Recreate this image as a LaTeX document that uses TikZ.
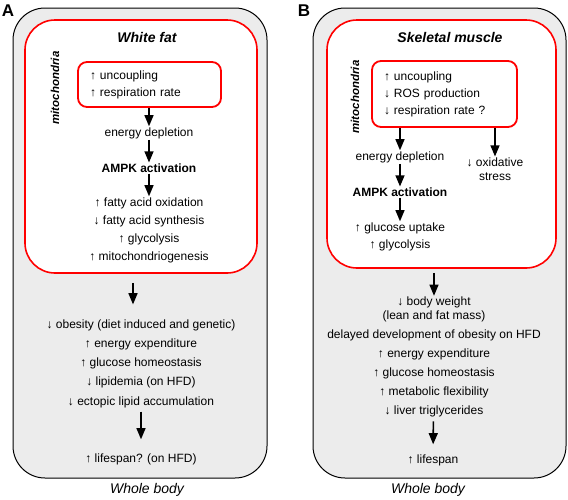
\documentclass[tikz,border=0pt]{standalone}
\usepackage{fontspec}
\setmainfont{Liberation Sans}
\usetikzlibrary{arrows}

\begin{document}
\begin{tikzpicture}[x=1pt,y=-1pt]
      \definecolor{bodygray}{RGB}{236,236,236}
      \tikzset{
        txt/.style={inner sep=1pt,align=center,font=\fontsize{12}{17}\selectfont},
        arr/.style={-triangle 45,line width=1.6pt},
        bodybox/.style={draw=black,line width=1pt,fill=bodygray,rounded corners=32pt,inner sep=0pt},
        cellbox/.style={draw=red,line width=1.6pt,fill=white,rounded corners=30pt,inner sep=0pt},
        mitobox/.style={draw=red,line width=1.8pt,fill=white,rounded corners=9pt,inner xsep=12pt,align=left,
          font=\fontsize{12}{17}\selectfont}
      }
      \useasboundingbox (0,0) rectangle (568,499);

      % panel A
      \node[font=\fontsize{17}{17}\selectfont\bfseries] (labA) at (8,11) {A};
      \node[bodybox,minimum width=254,minimum height=470] (wholeA) at (140,243) {};
      \node[cellbox,minimum width=232,minimum height=253] (cellA) at (141,146.5) {};
      \node[font=\fontsize{14}{14}\selectfont\bfseries\itshape] (titleA) at (147,37) {White fat};
      \node[rotate=90,font=\fontsize{11.5}{12}\selectfont\bfseries\itshape] (mitlabA) at (55,88) {mitochondria};
      \node[mitobox,text width=119,minimum height=45] (mitoA) at (149.5,84.5) {↑ uncoupling\\↑ respiration rate};
      \node[txt] (energyA) at (149,133) {energy depletion};
      \node[txt,font=\fontsize{12}{17}\selectfont\bfseries] (ampkA) at (149,168) {AMPK activation};
      \node[txt,font=\fontsize{12}{18}\selectfont] (effA) at (149,230) {↑ fatty acid oxidation\\↓ fatty acid synthesis\\↑ glycolysis\\↑ mitochondriogenesis};
      \node[txt,font=\fontsize{12}{19.2}\selectfont] (listA) at (141,363.5) {↓ obesity (diet induced and genetic)\\↑ energy expenditure\\↑ glucose homeostasis\\↓ lipidemia (on HFD)\\↓ ectopic lipid accumulation};
      \node[txt] (lifeA) at (141,459) {↑ lifespan? (on HFD)};
      \node[font=\fontsize{14}{14}\selectfont\itshape] (wbA) at (147,490) {Whole body};

      \draw[arr] (mitoA.south -| energyA) -- (energyA);
      \draw[arr] (energyA) -- (ampkA);
      \draw[arr] (ampkA) -- (effA);
      \draw[arr,shorten <=9pt,shorten >=14pt] (cellA.south -| 133,0) -- (listA.north -| 133,0);
      \draw[arr,shorten <=3pt,shorten >=13pt] (listA) -- (lifeA);

      % panel B
      \node[font=\fontsize{17}{17}\selectfont\bfseries] (labB) at (304,11) {B};
      \node[bodybox,minimum width=253,minimum height=470] (wholeB) at (439.5,243) {};
      \node[cellbox,minimum width=229,minimum height=248] (cellB) at (441.5,144) {};
      \node[font=\fontsize{14}{14}\selectfont\bfseries\itshape] (titleB) at (450,37) {Skeletal muscle};
      \node[rotate=90,font=\fontsize{11.5}{12}\selectfont\bfseries\itshape] (mitlabB) at (355,97) {mitochondria};
      \node[mitobox,text width=121,minimum height=66] (mitoB) at (444.5,94) {↑ uncoupling\\↓ ROS production\\↓ respiration rate ?};
      \node[txt] (energyB) at (400,157) {energy depletion};
      \node[txt,font=\fontsize{12}{14}\selectfont] (stressB) at (495,169) {↓ oxidative\\stress};
      \node[txt,font=\fontsize{12}{17}\selectfont\bfseries] (ampkB) at (400,192) {AMPK activation};
      \node[txt] (glucB) at (400,236.5) {↑ glucose uptake\\↑ glycolysis};
      \node[txt,font=\fontsize{12}{14}\selectfont] (listB) at (434,357) {↓ body weight\\(lean and fat mass)\\[5pt]delayed development of obesity on HFD\\[5pt]↑ energy expenditure\\[5pt]↑ glucose homeostasis\\[5pt]↑ metabolic flexibility\\[5pt]↓ liver triglycerides};
      \node[txt] (lifeB) at (433,460) {↑ lifespan};
      \node[font=\fontsize{14}{14}\selectfont\itshape] (wbB) at (428,490) {Whole body};

      \draw[arr] (mitoB.south -| energyB) -- (energyB);
      \draw[arr] (mitoB.south -| stressB) -- (stressB);
      \draw[arr] (energyB) -- (ampkB);
      \draw[arr] (ampkB) -- (glucB);
      \draw[arr,shorten <=4pt] (cellB.south -| listB) -- (listB);
      \draw[arr,shorten <=3pt,shorten >=9pt] (listB) -- (lifeB);
    \end{tikzpicture}
\end{document}
